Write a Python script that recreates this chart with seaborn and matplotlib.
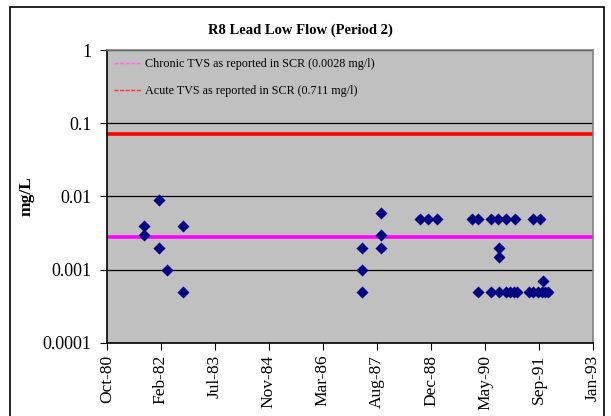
import pandas as pd
import numpy as np
import matplotlib
matplotlib.use("Agg")
import matplotlib.pyplot as plt
import matplotlib.dates as mdates
from matplotlib.lines import Line2D
from matplotlib.patches import Rectangle
import seaborn as sns

# sample dates and lead concentrations (mg/L)
dates = ["1981-09-13", "1981-09-13",
         "1982-02-01", "1982-02-01",
         "1982-04-11",
         "1982-09-08", "1982-09-08",
         "1987-03-21", "1987-03-21", "1987-03-21",
         "1987-09-20", "1987-09-20", "1987-09-20",
         "1988-09-11", "1988-11-27", "1989-02-13",
         "1990-01-03", "1990-03-07", "1990-03-07",
         "1990-06-28", "1990-07-05",
         "1990-09-06", "1990-09-13", "1990-09-13", "1990-09-13",
         "1990-11-16", "1990-11-16", "1990-12-23",
         "1991-01-29", "1991-02-08", "1991-02-26",
         "1991-06-17", "1991-07-22", "1991-07-22",
         "1991-09-09", "1991-09-27", "1991-10-16", "1991-10-22",
         "1991-11-17", "1991-12-15"]
lead = [0.004, 0.003,
        0.009, 0.002,
        0.001,
        0.004, 0.0005,
        0.002, 0.001, 0.0005,
        0.006, 0.003, 0.002,
        0.005, 0.005, 0.005,
        0.005, 0.005, 0.0005,
        0.005, 0.0005,
        0.005, 0.0005, 0.002, 0.0015,
        0.005, 0.0005, 0.0005,
        0.0005, 0.005, 0.0005,
        0.0005, 0.005, 0.0005,
        0.0005, 0.005, 0.0005, 0.0007,
        0.0005, 0.0005]

chronic_tvs = 0.0028
acute_tvs = 0.0711
chronic_label = "Chronic TVS as reported in SCR (0.0028 mg/l)"
acute_label = "Acute TVS as reported in SCR (0.711 mg/l)"

df = pd.DataFrame({"date": pd.to_datetime(dates), "lead": lead})

plt.rcParams["font.family"] = ["Liberation Serif", "DejaVu Serif"]

fig = plt.figure(figsize=(6.11, 4.16), dpi=100)
fig.patches.append(Rectangle((0.016, -0.01), 0.972, 0.993, transform=fig.transFigure,
                             fill=False, edgecolor="black", linewidth=1.2))
ax = fig.add_axes([0.175, 0.1755, 0.7955, 0.7043])
ax.set_facecolor("#C0C0C0")

ax.axhline(chronic_tvs, color="#FF00FF", linewidth=2.6, zorder=2)
ax.axhline(acute_tvs, color="#FF0000", linewidth=2.6, zorder=2)

sns.scatterplot(data=df, x="date", y="lead", ax=ax, marker="D", s=38,
                color="#000080", edgecolor="#000080", linewidth=0, zorder=3, legend=False)

ax.set_yscale("log")
ax.set_ylim(0.0001, 1)
ax.set_yticks([0.0001, 0.001, 0.01, 0.1, 1])
ax.set_yticklabels(["0.0001", "0.001", "0.01", "0.1", "1"])
ax.minorticks_off()
ax.yaxis.grid(True, color="black", linewidth=0.9)
ax.set_axisbelow(True)

start = pd.Timestamp("1980-10-05")
ticks = [start + pd.Timedelta(days=500 * k) for k in range(10)]
ax.set_xlim(ticks[0], ticks[-1])
ax.set_xticks(ticks)
ax.xaxis.set_major_formatter(mdates.DateFormatter("%b-%y"))
plt.setp(ax.get_xticklabels(), rotation=90)

ax.tick_params(axis="both", labelsize=12.5, direction="out", length=5, color="black")
ax.tick_params(axis="y", labelsize=13, pad=6)
ax.spines["left"].set_color("black")
ax.spines["bottom"].set_color("black")
ax.spines["top"].set_color("#808080")
ax.spines["right"].set_color("#808080")
for s in ax.spines.values():
    s.set_linewidth(1.2)

ax.set_xlabel("")
ax.set_ylabel("mg/L", fontsize=12.5, fontweight="bold", labelpad=6)
fig.text(0.491, 0.928, "R8 Lead Low Flow (Period 2)", ha="center", va="center",
         fontsize=10.5, fontweight="bold")

handles = [Line2D([0], [0], color="#FF66FF", linewidth=1, linestyle=(0, (3, 1))),
           Line2D([0], [0], color="#FF3333", linewidth=1, linestyle=(0, (3, 1)))]
ax.legend(handles, [chronic_label, acute_label], loc="upper left", frameon=False,
          fontsize=8.7, handlelength=2.2, labelspacing=1.25, handletextpad=0.3,
          bbox_to_anchor=(-0.007, 1.01))

fig.savefig("out.png", dpi=100)
